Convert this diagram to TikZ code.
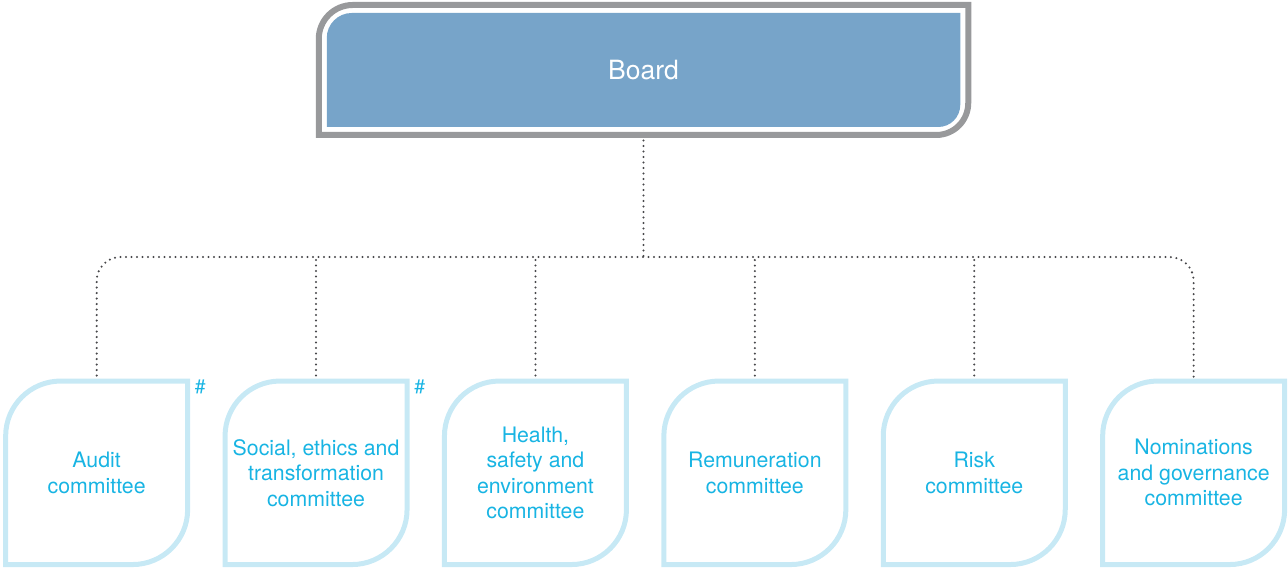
\documentclass[tikz,border=0pt]{standalone}
\usepackage{fontspec}
\setmainfont{TeX Gyre Heros}
\usetikzlibrary{backgrounds}
\definecolor{bleuconseil}{HTML}{77A4C9}
\definecolor{griscadre}{HTML}{98999B}
\definecolor{bleuclair}{HTML}{C7E9F5}
\definecolor{cyancomite}{HTML}{18B4E3}
\definecolor{grispoint}{HTML}{47474A}
% contour en feuille : coins haut-gauche et bas-droit arrondis
\newcommand{\feuille}[3]{(#1.south west) -- ([yshift=-#2]#1.north west) arc[start angle=180,end angle=90,radius=#2] -- (#1.north east) -- ([yshift=#3]#1.south east) arc[start angle=0,end angle=-90,radius=#3] -- cycle}
\begin{document}
\begin{tikzpicture}[x=1pt, y=1pt,
	comite/.style={minimum width=182pt, minimum height=183.5pt, inner sep=0pt, outer sep=0pt, align=center, text=cyancomite, font=\fontsize{21.3}{25.5}\selectfont},
	bord/.style={draw=bleuclair, line width=5pt},
	pointille/.style={draw=grispoint, line width=2.3pt, line cap=round, dash pattern=on 0pt off 5.5pt},
	diese/.style={anchor=north west, inner sep=0pt, text=cyancomite, font=\fontsize{19.5}{19.5}\selectfont}]
	%\draw[help lines] (0,0) grid[step=50] (1288,569);
	\useasboundingbox (0,0) rectangle (1288,569);
	\node[minimum width=633.5pt, minimum height=114pt, inner sep=0pt, outer sep=0pt, text=white, font=\fontsize{26.5}{30}\selectfont] (board) at (643.5,499) {Board};
	\node[minimum width=649.5pt, minimum height=130pt, inner sep=0pt, outer sep=0pt] (contour) at (board) {};
	\foreach \i/\texte in {1/{Audit\\committee}, 2/{Social, ethics and\\transformation\\committee}, 3/{Health,\\safety and\\environment\\committee}, 4/{Remuneration\\committee}, 5/{Risk\\committee}, 6/{Nominations\\and governance\\committee}}
		\node[comite] (c\i) at ({96.65+219.4*(\i-1)},96.2) {\texte};
	\node[diese] at ([xshift=7pt,yshift=1pt]c1.north east) {\#};
	\node[diese] at ([xshift=7pt,yshift=1pt]c2.north east) {\#};
	\coordinate (bus) at (board |- 0,312);
	\begin{pgfonlayer}{background}
		\draw[pointille] (contour.south) -- (bus);
		\draw[pointille, rounded corners=24pt] (c1.north) |- (bus) -| (c6.north);
		\foreach \i in {2,...,5}
			\draw[pointille] (c\i.north) -- (c\i.north |- bus);
		\fill[bleuconseil] \feuille{board}{25pt}{22pt};
		\draw[griscadre, line width=6pt] \feuille{contour}{34pt}{32pt};
		\foreach \i in {1,...,6}
			\draw[bord] \feuille{c\i}{55pt}{55pt};
	\end{pgfonlayer}
\end{tikzpicture}
\end{document}
